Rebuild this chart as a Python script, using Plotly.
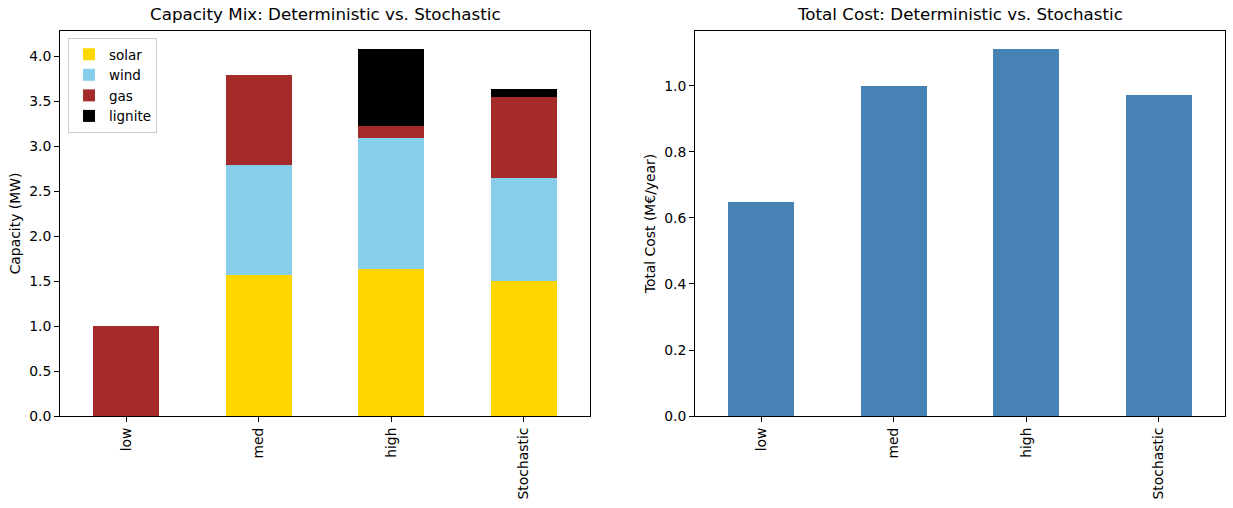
import plotly.graph_objects as go

categories = ["low", "med", "high", "Stochastic"]
solar = [0.0, 1.565, 1.632, 1.506]
wind = [0.0, 1.223, 1.457, 1.137]
gas = [1.0, 1.0, 0.134, 0.903]
lignite = [0.0, 0.0, 0.855, 0.090]
total_cost = [0.647, 0.999, 1.111, 0.972]

series = [("solar", solar, "#FFD700"), ("wind", wind, "#87CEEB"),
          ("gas", gas, "#A52A2A"), ("lignite", lignite, "#000000")]

FONT = "DejaVu Sans"
FS = 13.9
fig = go.Figure()
for name, vals, col in series:
    fig.add_trace(go.Bar(x=categories, y=vals, name=name, marker_color=col,
                         marker_line_width=0, width=0.5, xaxis="x", yaxis="y"))
fig.add_trace(go.Bar(x=categories, y=total_cost, name="cost", marker_color="#4682B4",
                     marker_line_width=0, width=0.5, xaxis="x2", yaxis="y2",
                     showlegend=False))

W, H = 1233, 508
dx1 = [60 / W, 590 / W]
dx2 = [695 / W, 1225 / W]
dy = [1 - 416 / H, 1 - 31 / H]

axis_common = dict(showline=True, linecolor="black", linewidth=1, mirror=True,
                   ticks="outside", ticklen=5, tickcolor="black", showgrid=False,
                   zeroline=False, automargin=False,
                   tickfont=dict(family=FONT, size=FS, color="black"))

fig.update_layout(
    width=W, height=H, barmode="stack",
    margin=dict(l=0, r=0, t=0, b=0),
    paper_bgcolor="white", plot_bgcolor="white",
    font=dict(family=FONT, size=FS, color="black"),
    xaxis=dict(domain=dx1, anchor="y", range=[-0.5, 3.5], tickangle=-90, **axis_common),
    yaxis=dict(domain=dy, anchor="x", range=[0, 4.282], dtick=0.5, tickformat=".1f",
               title=dict(text="Capacity (MW)", font=dict(family=FONT, size=FS), standoff=5),
               **axis_common),
    xaxis2=dict(domain=dx2, anchor="y2", range=[-0.5, 3.5], tickangle=-90, **axis_common),
    yaxis2=dict(domain=dy, anchor="x2", range=[0, 1.1666], dtick=0.2, tickformat=".1f",
                title=dict(text="Total Cost (M€/year)", font=dict(family=FONT, size=FS), standoff=5),
                **axis_common),
    legend=dict(x=68 / W, y=1 - 38 / H, xanchor="left", yanchor="top",
                bgcolor="white", bordercolor="#cccccc", borderwidth=1,
                font=dict(family=FONT, size=13.5), traceorder="normal",
                itemwidth=30, tracegroupgap=0),
    annotations=[
        dict(text="Capacity Mix: Deterministic vs. Stochastic", x=(dx1[0] + dx1[1]) / 2,
             y=1 - 26 / H, xref="paper", yref="paper", xanchor="center", yanchor="bottom",
             showarrow=False, font=dict(family=FONT, size=16.7, color="black")),
        dict(text="Total Cost: Deterministic vs. Stochastic", x=(dx2[0] + dx2[1]) / 2,
             y=1 - 26 / H, xref="paper", yref="paper", xanchor="center", yanchor="bottom",
             showarrow=False, font=dict(family=FONT, size=16.7, color="black")),
    ],
)
css_js = (
    "var s=document.createElement('style');"
    "s.textContent='html,body{margin:0;padding:0;overflow:hidden;height:508px;width:1233px;}"
    "body>div{line-height:0;height:508px;}';"
    "document.head.appendChild(s);"
)
fig.write_html("out.html", config={"displayModeBar": False}, post_script=css_js)
